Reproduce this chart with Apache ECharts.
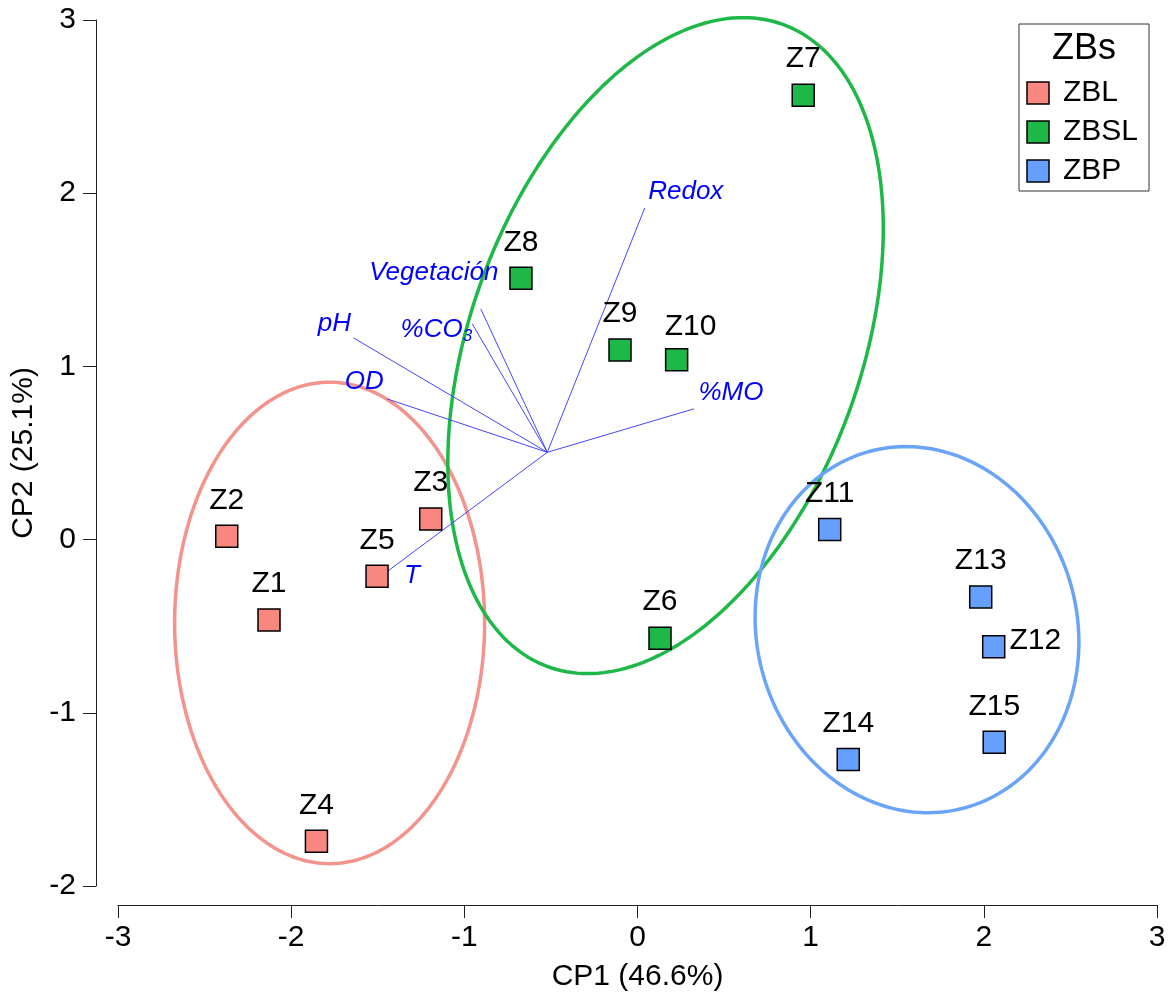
<!DOCTYPE html>
<html>
<head>
<meta charset="utf-8">
<script src="https://cdn.jsdelivr.net/npm/echarts@6/dist/echarts.min.js"></script>
<style>
html,body{margin:0;padding:0;background:#fff;}
#chart{width:1173px;height:997px;}
</style>
</head>
<body>
<div id="chart"></div>
<script>
// ---------- DATA ----------
const siteNames = ['Z1','Z2','Z3','Z4','Z5','Z6','Z7','Z8','Z9','Z10','Z11','Z12','Z13','Z14','Z15'];
const siteGroup = ['ZBL','ZBL','ZBL','ZBL','ZBL','ZBSL','ZBSL','ZBSL','ZBSL','ZBSL','ZBP','ZBP','ZBP','ZBP','ZBP'];
const cp1 = [-2.128,-2.372,-1.194,-1.854,-1.504, 0.130, 0.957,-0.673,-0.101, 0.226, 1.110, 2.057, 1.982, 1.217, 2.060];
const cp2 = [-0.464, 0.019, 0.119,-1.742,-0.212,-0.569, 2.566, 1.509, 1.095, 1.038, 0.058,-0.618,-0.331,-1.270,-1.170];

const groups = ['ZBL','ZBSL','ZBP'];

const variables = ['Redox','%MO','Vegetación','%CO3','pH','OD','T'];
const loadX = [0.042, 0.326,-0.905,-0.954,-1.641,-1.445,-1.464];
const loadY = [1.915, 0.755, 1.332, 1.245, 1.165, 0.812,-0.198];
const arrowOrigin = [-0.521, 0.504];

const ellipseCenterX = [-1.778, 0.162, 1.614];
const ellipseCenterY = [-0.481, 1.120,-0.520];
const ellipseVarX = [0.801, 1.581, 0.874];
const ellipseVarY = [1.932, 3.586, 1.117];
const ellipseCov  = [0.000, 0.850,-0.067];

const xTickMin = -3, xTickMax = 3, yTickMin = -2, yTickMax = 3;
const xTitle = 'CP1 (46.6%)', yTitle = 'CP2 (25.1%)', legendTitle = 'ZBs';

// ---------- STYLE ----------
const FONT = "'Liberation Sans', Arial, Helvetica, sans-serif";
const fillColor = {ZBL:'#F8877F', ZBSL:'#1DB847', ZBP:'#66A0FF'};
const ellipseColor = {ZBL:'#F4928C', ZBSL:'#1DB847', ZBP:'#6AA4F8'};
const labelPlacement = {
  Z10: {position:'inside', offset:[14,-33]},
  Z12: {position:'right', distance:4, offset:[0,-6]}
};
const varLabelOffset = {
  'Redox':[41,-16], '%MO':[37,-16], 'Vegetación':[-47,-36], '%CO3':[-36,6],
  'pH':[-19,-14], 'OD':[-23,-17], 'T':[28,2]
};

// ---------- BUILD ----------
function ellipsePoints(k){
  const sx = Math.sqrt(ellipseVarX[k]);
  const b = ellipseCov[k] / sx;
  const c = Math.sqrt(ellipseVarY[k] - b*b);
  const pts = [];
  const N = 240;
  for (let i = 0; i <= N; i++){
    const t = 2*Math.PI*i/N;
    pts.push([ellipseCenterX[k] + sx*Math.cos(t), ellipseCenterY[k] + b*Math.cos(t) + c*Math.sin(t)]);
  }
  return pts;
}

const series = [];
groups.forEach((g, k) => {
  series.push({
    type:'line', name:g+'-ellipse', data: ellipsePoints(k), showSymbol:false, smooth:false,
    lineStyle:{color:ellipseColor[g], width:3.5}, z:1, silent:true, clip:false
  });
});

series.push({
  type:'custom', name:'loadings', z:3, silent:true,
  data: variables.map((v,i)=>[loadX[i], loadY[i]]),
  renderItem: function(params, api){
    const i = params.dataIndex;
    const name = variables[i];
    const p0 = api.coord(arrowOrigin);
    const p1 = api.coord([api.value(0), api.value(1)]);
    const off = varLabelOffset[name];
    let textStyle;
    if (name === '%CO3'){
      textStyle = {
        text:'{a|%CO}{s|3}',
        rich:{
          a:{fontSize:26, fontStyle:'italic', fontFamily:FONT, fill:'#0000FF', lineHeight:30},
          s:{fontSize:17, fontStyle:'italic', fontFamily:FONT, fill:'#0000FF', lineHeight:30, verticalAlign:'bottom', padding:[14,0,0,0]}
        },
        align:'center', verticalAlign:'middle'
      };
    } else {
      textStyle = {text:name, fontSize:26, fontStyle:'italic', fontFamily:FONT, fill:'#0000FF', align:'center', verticalAlign:'middle'};
    }
    return {type:'group', children:[
      {type:'line', shape:{x1:p0[0], y1:p0[1], x2:p1[0], y2:p1[1]}, style:{stroke:'#4646FF', lineWidth:1}},
      {type:'text', x:p1[0]+off[0], y:p1[1]+off[1], style:textStyle}
    ]};
  }
});

groups.forEach(g => {
  const data = [];
  siteNames.forEach((n,i) => {
    if (siteGroup[i] !== g) return;
    const item = {name:n, value:[cp1[i], cp2[i]]};
    if (labelPlacement[n]) item.label = Object.assign({}, labelPlacement[n]);
    data.push(item);
  });
  series.push({
    type:'scatter', name:g, data, symbol:'rect', symbolSize:22, z:5,
    itemStyle:{color:fillColor[g], borderColor:'#000', borderWidth:1.5, opacity:1},
    label:{show:true, formatter:'{b}', position:'inside', offset:[0,-36], fontSize:30, color:'#000', fontFamily:FONT},
    emphasis:{disabled:true}
  });
});

const graphic = [
  {type:'rect', shape:{x:1019, y:24, width:130, height:167}, style:{fill:'#fff', stroke:'#333', lineWidth:1}, z:10},
  {type:'text', x:1084, y:49, style:{text:legendTitle, fontSize:36, fontFamily:FONT, fill:'#000', align:'center', verticalAlign:'middle'}, z:11}
];
groups.forEach((g,k) => {
  const cy = 93 + k*39;
  graphic.push({type:'rect', shape:{x:1027, y:cy-11, width:22, height:22}, style:{fill:fillColor[g], stroke:'#000', lineWidth:1.5}, z:11});
  graphic.push({type:'text', x:1063, y:cy, style:{text:g, fontSize:30, fontFamily:FONT, fill:'#000', align:'left', verticalAlign:'middle'}, z:11});
});

const axisCommon = {
  type:'value', interval:1,
  axisLine:{show:true, onZero:false, lineStyle:{color:'#222', width:1}},
  axisTick:{show:true, inside:false, length:13, lineStyle:{color:'#222', width:1}},
  splitLine:{show:false},
  nameLocation:'middle',
  nameTextStyle:{fontSize:30, color:'#000', fontFamily:FONT}
};

const option = {
  animation:false,
  backgroundColor:'#fff',
  grid:{left:118, right:16, top:20, bottom:111, containLabel:false},
  xAxis: Object.assign({}, axisCommon, {
    min:xTickMin, max:xTickMax, offset:19, name:xTitle, nameGap:57,
    axisLabel:{fontSize:30, color:'#000', fontFamily:FONT, margin:18}
  }),
  yAxis: Object.assign({}, axisCommon, {
    min:yTickMin, max:yTickMax, offset:22, name:yTitle, nameGap:55,
    axisLabel:{fontSize:30, color:'#000', fontFamily:FONT, margin:20}
  }),
  series,
  graphic
};

const chart = echarts.init(document.getElementById('chart'), null, {renderer:'canvas'});
chart.setOption(option);
</script>
</body>
</html>
